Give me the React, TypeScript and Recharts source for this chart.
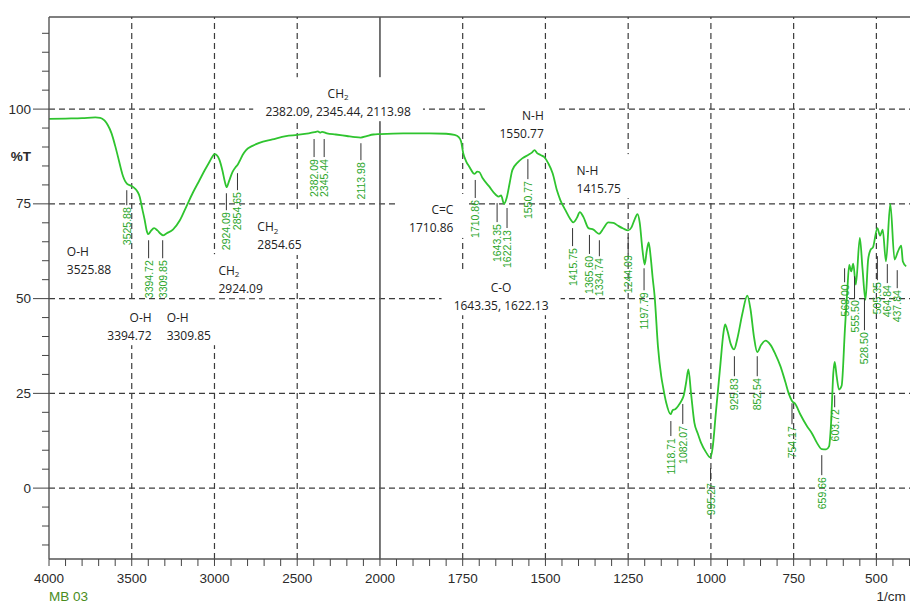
import React from 'react';
import { LineChart, Line, XAxis, YAxis, ReferenceLine, ReferenceDot } from 'recharts';

// ---------- spectrum (wavenumber 1/cm, %T) ----------
const spectrumWn = [
  4000, 3900, 3800, 3720, 3690, 3665, 3645, 3622, 3600, 3583, 3565, 3552, 3540, 3528, 3505, 3482, 3465, 3452,
  3436, 3422, 3410, 3400, 3385, 3365, 3345, 3325, 3311, 3290, 3251, 3210, 3170, 3130, 3090, 3060, 3030, 3012,
  3000, 2985, 2970, 2952, 2937, 2926, 2912, 2890, 2872, 2860, 2848, 2830, 2809, 2770, 2729, 2650, 2568, 2500,
  2430, 2395, 2375, 2362, 2350, 2320, 2267, 2200, 2150, 2116, 2080, 2040, 2000, 1930, 1850, 1800, 1775, 1762,
  1755, 1748, 1740, 1730, 1714, 1706, 1700, 1690, 1670, 1650, 1641, 1634, 1625, 1617, 1608, 1600, 1585, 1570,
  1550, 1540, 1533, 1525, 1515, 1503, 1492, 1478, 1465, 1455, 1440, 1425, 1416, 1405, 1396, 1385, 1370, 1355,
  1338, 1325, 1310, 1295, 1280, 1265, 1250, 1240, 1230, 1222, 1215, 1207, 1200, 1194, 1188, 1182, 1176, 1170,
  1160, 1150, 1145, 1135, 1122, 1115, 1108, 1098, 1088, 1082, 1075, 1068, 1060, 1050, 1040, 1030, 1015, 1002,
  995, 985, 972, 962, 957, 950, 940, 930, 920, 905, 890, 880, 870, 860, 848, 835, 820, 805, 790, 775, 765, 755,
  745, 730, 710, 695, 680, 665, 652, 643, 637, 630, 626, 620, 613, 605, 595, 588, 582, 576, 570, 562, 550, 542,
  533, 525, 518, 510, 497, 489, 481, 471, 458, 445, 435, 425, 420, 410,
];
const spectrumT = [
  97.4, 97.5, 97.6, 97.8, 97.7, 97.0, 95.8, 93.6, 90.3, 87.4, 84.2, 82.2, 81.0, 80.3, 79.8, 79.1, 78.2, 76.9,
  73.6, 70.8, 68.0, 67.0, 67.8, 68.6, 68.0, 67.1, 66.7, 67.2, 68.2, 70.6, 74.3, 78.0, 81.3, 83.8, 86.1, 87.5,
  88.1, 87.8, 86.6, 83.8, 80.8, 79.4, 81.0, 83.5, 84.7, 85.3, 86.3, 87.9, 89.2, 90.3, 91.1, 92.0, 92.9, 93.2,
  93.6, 93.9, 94.1, 93.8, 94.0, 93.6, 93.3, 92.9, 92.6, 92.5, 92.9, 93.3, 93.4, 93.6, 93.6, 93.5, 93.2, 92.6,
  91.5, 88.2, 86.3, 84.8, 82.9, 83.5, 83.4, 81.8, 79.6, 77.4, 76.9, 77.2, 75.0, 76.6, 80.5, 83.9, 85.8, 87.0,
  88.0, 88.6, 89.2, 88.4, 87.9, 87.3, 85.8, 83.0, 78.5, 76.0, 73.4, 71.0, 70.1, 71.3, 72.8, 71.5, 68.6, 68.2,
  67.1, 68.5, 70.1, 70.0, 69.2, 68.5, 68.0, 68.8, 71.0, 72.3, 70.0, 63.0, 59.0, 62.5, 64.8, 61.0, 55.5, 50.6,
  37.4, 29.5, 26.9, 22.5, 19.5, 20.6, 20.8, 21.8, 23.2, 24.5, 27.8, 31.3, 25.0, 17.3, 14.5, 12.0, 9.5, 8.1,
  10.5, 19.9, 32.0, 41.0, 43.2, 41.5, 38.0, 36.6, 39.5, 46.0, 50.8, 47.0, 40.0, 35.9, 37.8, 38.9, 37.8, 35.3, 32.2, 28.0, 25.0, 23.0,
  22.2, 19.5, 16.4, 14.5, 12.0, 10.3, 10.2, 11.0, 17.0, 30.5, 33.3, 29.5, 26.0, 27.0, 42.0, 52.0, 58.9, 57.2, 59.2, 53.7, 66.0, 58.0,
  49.7, 60.2, 62.8, 63.6, 68.6, 66.6, 68.2, 59.8, 75.0, 60.3, 62.4, 64.0, 59.8, 58.5,
];

// ---------- axes ----------
const xMajorTicks = [4000, 3500, 3000, 2500, 2000, 1750, 1500, 1250, 1000, 750, 500];
const xGridDashed = [3500, 3000, 2500, 1750, 1500, 1250, 1000, 750, 500];
const yMajorTicks = [0, 25, 50, 75, 100];
const yGrid = [100, 75, 50, 25, 0];
const Y_MIN = -18.7;
const Y_MAX = 124.3;
const WN_MIN = 341;

// ---------- peak picks (green labels) ----------
const peakText = ['3525.88', '3394.72', '3309.85', '2924.09', '2854.65', '2382.09', '2345.44', '2113.98', '1710.86',
  '1643.35', '1622.13', '1550.77', '1415.75', '1365.60', '1334.74', '1244.09', '1197.79', '1118.71', '1082.07',
  '995.27', '925.83', '852.54', '754.17', '659.66', '603.72', '569.00', '555.50', '528.50', '505.35', '464.84', '437.84'];
const peakWn = [3530, 3398, 3313, 2928, 2861, 2398, 2337, 2115, 1712, 1646, 1616, 1553, 1418, 1367, 1337, 1250, 1202,
  1121, 1085, 1001, 929, 860, 755, 665, 626, 596, 566, 536, 497, 467, 437];
const peakT = [78.6, 65.4, 65.4, 77.8, 83.1, 92.1, 92.1, 91.0, 81.3, 75.2, 73.9, 86.8, 68.6, 66.8, 65.4, 66.2, 58.0,
  17.7, 22.2, 5.3, 34.8, 34.8, 22.4, 8.7, 24.5, 58.0, 55.9, 50.1, 61.2, 59.1, 57.5];
const peakStem = [15, 18, 18, 17, 17, 18, 18, 17, 18, 19, 20, 20, 18, 19, 16, 16, 22, 15, 20, 13, 20, 20, 21, 20, 12,
  14, 22, 32, 24, 19, 18];

// ---------- band assignments (black annotations) ----------
const annTitle = ['O-H', 'O-H', 'O-H', 'CH2', 'CH2', 'CH2', 'C=C', 'C-O', 'N-H', 'N-H'];
const annValue = ['3525.88', '3394.72', '3309.85', '2924.09', '2854.65', '2382.09, 2345.44, 2113.98', '1710.86',
  '1643.35, 1622.13', '1550.77', '1415.75'];
const annWn = [3892, 3380, 3289, 2976, 2741, 2253, 1778, 1634, 1505, 1406];
const annT = [62.3, 45.1, 45.1, 57.5, 68.9, 104.2, 73.4, 53.0, 98.4, 83.9];
const annAlign = ['start', 'end', 'start', 'start', 'start', 'middle', 'end', 'middle', 'end', 'start'];

// piecewise axis (scale changes at 2000 1/cm)
const toPos = (wn: number) => (wn >= 2000 ? 4000 - wn : 2000 + 2 * (2000 - wn));
const fromPos = (p: number) => (p <= 2000 ? 4000 - p : 2000 - (p - 2000) / 2);
const X_MAX = toPos(WN_MIN);

const data = spectrumWn.map((w, i) => ({ pos: toPos(w), t: spectrumT[i] }));

const xTickWn: number[] = [];
for (let w = 4000; w > 2000; w -= 100) xTickWn.push(w);
for (let w = 2000; w >= 400; w -= 50) xTickWn.push(w);
const xTicks = xTickWn.map(toPos);
const yTicks: number[] = [];
for (let v = -15; v <= 120; v += 5) yTicks.push(v);

const AXIS_FONT = "'Liberation Sans', Arial, sans-serif";
const ANN_FONT = "'Open Sans', 'Segoe UI', sans-serif";
const PEAK_FONT = "'Liberation Sans', Arial, sans-serif";
const GRID = '#3c3c3c';

const charW: Record<string, number> = { '.': 0.266, ',': 0.266, ' ': 0.26, '-': 0.322, O: 0.779, H: 0.738, C: 0.633, '=': 0.572 };
const textWidth = (s: string, fs: number) => s.split('').reduce((a, c) => a + (charW[c] ?? 0.572), 0) * fs;

const XTick = (props: any) => {
  const { x, y, payload } = props;
  const wn = Math.round(fromPos(payload.value));
  const major = xMajorTicks.includes(wn);
  return (
    <g>
      <line x1={x} y1={y} x2={x} y2={y + 7} stroke="#444" strokeWidth={1} />
      {major && (
        <text x={x} y={y + 19} textAnchor="middle" dominantBaseline="central" fontFamily={AXIS_FONT} fontSize={13.5} fill="#2a2a2a">
          {wn}
        </text>
      )}
    </g>
  );
};

const YTick = (props: any) => {
  const { x, y, payload } = props;
  const v = payload.value;
  const major = yMajorTicks.includes(v);
  const len = major ? 16 : 7;
  return (
    <g>
      <line x1={x - len} y1={y} x2={x} y2={y} stroke="#444" strokeWidth={1} />
      {major && (
        <text x={x - 18} y={y} textAnchor="end" dominantBaseline="central" fontFamily={AXIS_FONT} fontSize={13.5} fill="#2a2a2a">
          {v}
        </text>
      )}
    </g>
  );
};

const Title = ({ s, x, y, anchor }: any) => {
  if (s === 'CH2') {
    return (
      <text x={x} y={y} textAnchor={anchor} dominantBaseline="central" fontFamily={ANN_FONT} fontSize={12} fill="#222">
        CH<tspan fontSize={8} dy={3}>2</tspan>
      </text>
    );
  }
  return (
    <text x={x} y={y} textAnchor={anchor} dominantBaseline="central" fontFamily={ANN_FONT} fontSize={12} fill="#222">
      {s}
    </text>
  );
};

const AnnLabel = ({ cx, cy, i }: any) => {
  const anchor = annAlign[i];
  const w = Math.max(textWidth(annTitle[i], 12), textWidth(annValue[i], 12));
  const x0 = anchor === 'start' ? cx : anchor === 'end' ? cx - w : cx - w / 2;
  return (
    <g>
      <rect x={x0 - 12} y={cy - 16} width={w + 24} height={44} fill="#ffffff" />
      <Title s={annTitle[i]} x={cx} y={cy} anchor={anchor} />
      <text x={cx} y={cy + 18} textAnchor={anchor} dominantBaseline="central" fontFamily={ANN_FONT} fontSize={12} fill="#222">
        {annValue[i]}
      </text>
    </g>
  );
};

const PeakMark = ({ cx, cy, i }: any) => {
  const len = peakStem[i];
  return (
    <g>
      <line x1={cx} y1={cy} x2={cx} y2={cy + len} stroke="#333" strokeWidth={1} />
      <text
        transform={`translate(${cx},${cy + len + 2}) rotate(-90)`}
        textAnchor="end"
        dominantBaseline="central"
        fontFamily={PEAK_FONT}
        fontSize={10.5}
        fill="#2aa52a"
      >
        {peakText[i]}
      </text>
    </g>
  );
};

export default function App() {
  return (
    <div style={{ position: 'absolute', left: 0, top: 0, width: 910, height: 602, overflow: 'hidden', background: '#fff' }}>
      <LineChart width={940} height={602} data={data} margin={{ top: 17, right: 11, bottom: 0, left: 0 }}>
        <XAxis
          dataKey="pos"
          type="number"
          domain={[0, X_MAX]}
          allowDataOverflow
          ticks={xTicks}
          interval={0}
          tickSize={0}
          tickMargin={0}
          tickLine={false}
          tick={<XTick />}
          axisLine={{ stroke: '#555', strokeWidth: 1.4 }}
          height={43}
        />
        <YAxis
          type="number"
          domain={[Y_MIN, Y_MAX]}
          allowDataOverflow
          ticks={yTicks}
          interval={0}
          tickSize={0}
          tickMargin={0}
          tickLine={false}
          tick={<YTick />}
          axisLine={{ stroke: '#555', strokeWidth: 1.4 }}
          width={49}
        />
        <ReferenceLine y={Y_MAX} stroke="#555" strokeWidth={1.4} ifOverflow="visible" />
        {yGrid.map((v) => (
          <ReferenceLine key={'h' + v} y={v} stroke={GRID} strokeWidth={1.2} strokeDasharray="6 4" />
        ))}
        {xGridDashed.map((w) => (
          <ReferenceLine key={'v' + w} x={toPos(w)} stroke={GRID} strokeWidth={1.2} strokeDasharray="6 4" />
        ))}
        <ReferenceLine x={toPos(2000)} stroke="#555" strokeWidth={1.6} />
        {annTitle.map((_, i) => (
          <ReferenceDot
            key={'a' + i}
            x={toPos(annWn[i])}
            y={annT[i]}
            r={0}
            ifOverflow="visible"
            shape={(p: any) => <AnnLabel cx={p.cx} cy={p.cy} i={i} />}
          />
        ))}
        <Line type="monotone" dataKey="t" stroke="#2fc42f" strokeWidth={1.8} dot={false} activeDot={false} isAnimationActive={false} />
        {peakText.map((_, i) => (
          <ReferenceDot
            key={'p' + i}
            x={toPos(peakWn[i])}
            y={peakT[i]}
            r={0}
            ifOverflow="visible"
            shape={(p: any) => <PeakMark cx={p.cx} cy={p.cy} i={i} />}
          />
        ))}
        <ReferenceDot
          x={0}
          y={87.6}
          r={0}
          ifOverflow="visible"
          shape={(p: any) => (
            <text x={p.cx - 18} y={p.cy} textAnchor="end" dominantBaseline="central" fontFamily={AXIS_FONT} fontSize={13.5} fontWeight="bold" fill="#2a2a2a">
              %T
            </text>
          )}
        />
        <ReferenceDot
          x={0}
          y={Y_MIN}
          r={0}
          ifOverflow="visible"
          shape={(p: any) => (
            <text x={p.cx} y={p.cy + 37} dominantBaseline="central" fontFamily={AXIS_FONT} fontSize={13.5} fill="#4a8c1c">
              MB 03
            </text>
          )}
        />
        <ReferenceDot
          x={toPos(500)}
          y={Y_MIN}
          r={0}
          ifOverflow="visible"
          shape={(p: any) => (
            <text x={p.cx} y={p.cy + 37} dominantBaseline="central" fontFamily={AXIS_FONT} fontSize={13.5} fill="#2a2a2a">
              1/cm
            </text>
          )}
        />
      </LineChart>
    </div>
  );
}
